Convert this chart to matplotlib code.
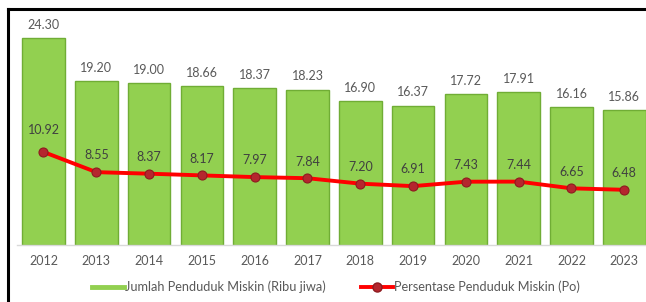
import matplotlib.pyplot as plt
from matplotlib.lines import Line2D
import numpy as np

plt.rcParams['font.family'] = ['Lato', 'DejaVu Sans']

# data
years = ['2012', '2013', '2014', '2015', '2016', '2017',
         '2018', '2019', '2020', '2021', '2022', '2023']
jumlah = [24.30, 19.20, 19.00, 18.66, 18.37, 18.23,
          16.90, 16.37, 17.72, 17.91, 16.16, 15.86]
persen = [10.92, 8.55, 8.37, 8.17, 7.97, 7.84,
          7.20, 6.91, 7.43, 7.44, 6.65, 6.48]

W, H = 646, 302
fig = plt.figure(figsize=(W / 100, H / 100), dpi=100)
fig.patch.set_facecolor('white')

# axes placed in pixel terms
left, right, top, base = 17.1, 17.1 + 52.8 * 12, 12, 245
ax = fig.add_axes([left / W, (H - base) / H, (right - left) / W, (base - top) / H])
ax.set_facecolor('none')

green = '#92d050'
green_edge = '#70ad35'
x = np.arange(len(years))
ax.bar(x, jumlah, width=0.81, color=green, edgecolor=green_edge, linewidth=1.0, zorder=2)
ax.plot(x, persen, color='#ff0000', lw=2.8, zorder=3, solid_capstyle='round')
ax.plot(x, persen, 'o', ms=6.5, mfc='#b5262e', mec='#8e1b20', mew=0.8, zorder=4)

ax.set_xlim(-0.5, 11.5)
ax.set_ylim(0, (base - top) / 8.52)

for xi, v in zip(x, jumlah):
    ax.annotate(f'{v:.2f}', (xi, v), xytext=(0, 9.5), textcoords='offset points',
                ha='center', va='center', fontsize=9, color='#595959')
for xi, v in zip(x, persen):
    dy = 16 if xi == 0 else 12
    ax.annotate(f'{v:.2f}', (xi, v), xytext=(0, dy), textcoords='offset points',
                ha='center', va='center', fontsize=9, color='#404040', zorder=5)

ax.set_xticks(x)
ax.set_xticklabels(years, fontsize=9, color='#595959')
ax.tick_params(axis='x', length=0, pad=7)
ax.set_yticks([])
for s in ['top', 'right', 'left']:
    ax.spines[s].set_visible(False)
ax.spines['bottom'].set_color('#d9d9d9')
ax.spines['bottom'].set_linewidth(1)

# legend
handles = [Line2D([0], [0], color=green, lw=3.5),
           Line2D([0], [0], color='#ff0000', lw=2.8, marker='o', ms=6.5,
                  mfc='#b5262e', mec='#8e1b20')]
labels = ['Jumlah Penduduk Miskin (Ribu jiwa)', 'Persentase Penduduk Miskin (Po)']
leg = fig.legend(handles, labels, loc='center', bbox_to_anchor=(336 / W, 1 - 287 / H),
                 ncol=2, frameon=False, fontsize=9.2, handlelength=2.5,
                 handletextpad=0.1, columnspacing=2.7)
for t in leg.get_texts():
    t.set_color('#595959')

# black frame lines at top and left
fig.add_artist(Line2D([8 / W, 1], [1 - 9 / H, 1 - 9 / H], color='black', lw=2.2,
                      transform=fig.transFigure))
fig.add_artist(Line2D([8 / W, 8 / W], [0, 1 - 9 / H], color='black', lw=2.2,
                      transform=fig.transFigure))

fig.savefig('out.png', dpi=100)
